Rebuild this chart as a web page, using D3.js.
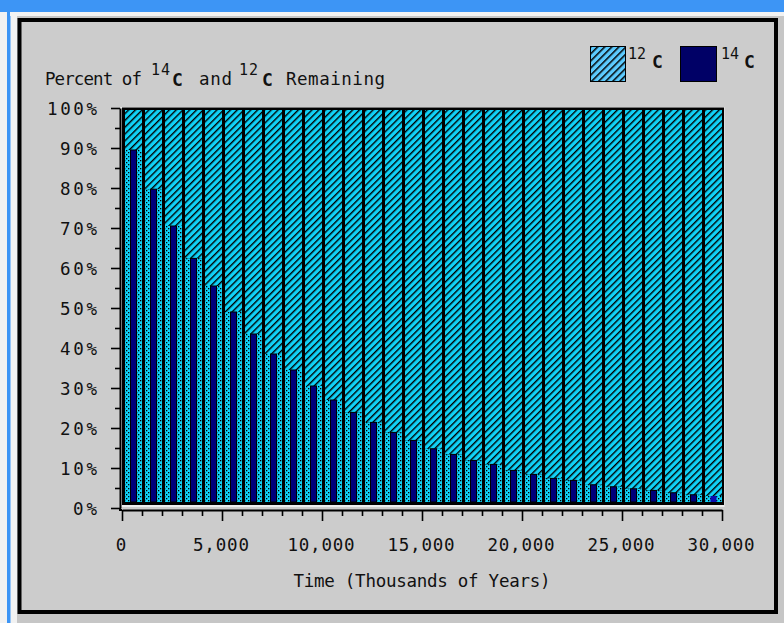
<!DOCTYPE html>
<html><head><meta charset="utf-8">
<script src="https://cdn.jsdelivr.net/npm/d3@7/dist/d3.min.js"></script>
<style>
body{margin:0;background:#fff}
svg{display:block}
text{font-family:"DejaVu Sans Mono",monospace;fill:#111}
</style></head>
<body><svg id="c" width="784" height="623"></svg>
<script>
// ---- data ----
const years = [0,1000,2000,3000,4000,5000,6000,7000,8000,9000,10000,11000,12000,13000,14000,
  15000,16000,17000,18000,19000,20000,21000,22000,23000,24000,25000,26000,27000,28000,29000];
const c14 = [89.5,79.7,70.5,62.4,55.5,49,43.5,38.5,34.5,30.5,27,23.9,21.4,18.9,16.9,
  14.8,13.4,11.9,10.9,9.4,8.4,7.4,6.9,5.8,5.3,4.8,4.4,3.8,3.3,3.0];
const c12 = [100,100,100,100,100,100,100,100,100,100,100,100,100,100,100,
  100,100,100,100,100,100,100,100,100,100,100,100,100,100,100];
const yTickValues = [0,10,20,30,40,50,60,70,80,90,100];
const yMinorValues = [5,15,25,35,45,55,65,75,85,95];
const xTickValues = [0,5000,10000,15000,20000,25000,30000];
const xMinorValues = [1000,2000,3000,4000,6000,7000,8000,9000,11000,12000,13000,14000,16000,17000,18000,19000,21000,22000,23000,24000,26000,27000,28000,29000];
const xTickLabels = ["0","5,000","10,000","15,000","20,000","25,000","30,000"];
const yTickLabels = ["0%","10%","20%","30%","40%","50%","60%","70%","80%","90%","100%"];
const binWidth = 1000;

const svg = d3.select("#c");
const defs = svg.append("defs");

// hatch pattern for 12C
const hp = defs.append("pattern").attr("id","hatch").attr("patternUnits","userSpaceOnUse")
  .attr("width",4.8).attr("height",4.8).attr("patternTransform","rotate(45)");
hp.append("rect").attr("width",4.8).attr("height",4.8).attr("fill","#10d2f7");
hp.append("rect").attr("width",1.4).attr("height",4.8).attr("fill","#000");
// dotted pattern (lower part of 12C columns)
const dp = defs.append("pattern").attr("id","dots").attr("patternUnits","userSpaceOnUse")
  .attr("width",4).attr("height",4);
dp.append("rect").attr("width",4).attr("height",4).attr("fill","#10d2f7");
dp.append("rect").attr("x",0).attr("y",0).attr("width",1.3).attr("height",1.3).attr("fill","#000");
dp.append("rect").attr("x",2).attr("y",2).attr("width",1.3).attr("height",1.3).attr("fill","#000");
// legend hatch
const lp = defs.append("pattern").attr("id","lhatch").attr("patternUnits","userSpaceOnUse")
  .attr("width",5).attr("height",5).attr("patternTransform","rotate(45)");
lp.append("rect").attr("width",5).attr("height",5).attr("fill","#5ccbff");
lp.append("rect").attr("width",1.5).attr("height",5).attr("fill","#000");

// ---- window frame ----
svg.append("rect").attr("width",784).attr("height",623).attr("fill","#c6c6c6");
svg.append("rect").attr("x",0).attr("y",0).attr("width",17).attr("height",623).attr("fill","#f2f2f2");
svg.append("rect").attr("x",7).attr("y",0).attr("width",3.5).attr("height",623).attr("fill","#3d95f5");
svg.append("rect").attr("x",0).attr("y",0).attr("width",784).attr("height",12).attr("fill","#3d95f5");
svg.append("rect").attr("x",10).attr("y",12).attr("width",774).attr("height",4).attr("fill","#f2f2f2");
svg.append("rect").attr("x",19.5).attr("y",20).attr("width",756.5).attr("height",592)
  .attr("fill","#cccccc").attr("stroke","#000").attr("stroke-width",4);

// ---- scales ----
const xs = d3.scaleLinear().domain([0,30000]).range([122,722]);
const ys = d3.scaleLinear().domain([0,100]).range([508,108]);

// plot area 3D inset
svg.append("rect").attr("x",120.5).attr("y",107).attr("width",604).attr("height",400).attr("fill","#eeeeee");
svg.append("rect").attr("x",122).attr("y",107.5).attr("width",602).attr("height",397.5).attr("fill","#000");

const plotBottom = 502;
const cols = svg.append("g");
years.forEach((yr,i)=>{
  const x0 = xs(yr)+3, x1 = xs(yr+binWidth);
  cols.append("rect").attr("x",x0).attr("width",x1-x0)
    .attr("y",ys(c12[i])+2).attr("height",ys(c14[i])-ys(c12[i])-2).attr("fill","url(#hatch)");
  cols.append("rect").attr("x",x0).attr("width",x1-x0)
    .attr("y",ys(c14[i])).attr("height",plotBottom-ys(c14[i])).attr("fill","url(#dots)");
});
// 14C bars
svg.append("g").selectAll("rect").data(years).join("rect")
  .attr("x",(d)=>xs(d)+8.5)
  .attr("width",(d)=> (xs(d+binWidth)-xs(d))*0.3)
  .attr("y",(d,i)=>ys(c14[i]))
  .attr("height",(d,i)=>plotBottom-ys(c14[i]))
  .attr("fill",(d,i)=> i===years.length-1 ? "#0c0cb0" : "#00007a")
  .attr("stroke",(d,i)=> i===years.length-1 ? "none" : "#000")
  .attr("stroke-width",1);

// ---- axes ----
const yAxisX = 120;
const yMaj = d3.axisLeft(ys).tickValues(yTickValues).tickSize(9).tickSizeOuter(0).tickFormat("");
const yMin = d3.axisLeft(ys).tickValues(yMinorValues).tickSize(5).tickSizeOuter(0).tickFormat("");
const gy = svg.append("g").attr("transform",`translate(${yAxisX},0)`).call(yMaj);
svg.append("g").attr("transform",`translate(${yAxisX},0)`).call(yMin).select(".domain").remove();
gy.select(".domain").attr("stroke","#000").attr("stroke-width",2);

const xAxisY = 510;
const xMaj = d3.axisBottom(xs).tickValues(xTickValues).tickSize(11).tickSizeOuter(0).tickFormat("");
const xMin = d3.axisBottom(xs).tickValues(xMinorValues).tickSize(6).tickSizeOuter(0).tickFormat("");
const gx = svg.append("g").attr("transform",`translate(0,${xAxisY})`).call(xMaj);
svg.append("g").attr("transform",`translate(0,${xAxisY})`).call(xMin).select(".domain").remove();
gx.select(".domain").attr("stroke","#000").attr("stroke-width",2);
svg.selectAll("g.tick line").attr("stroke","#000").attr("stroke-width",1.6);
svg.append("line").attr("x1",yAxisX).attr("x2",yAxisX).attr("y1",ys(0)).attr("y2",xAxisY+1)
  .attr("stroke","#000").attr("stroke-width",2);
svg.append("line").attr("x1",yAxisX-1).attr("x2",xs(0)).attr("y1",xAxisY).attr("y2",xAxisY)
  .attr("stroke","#000").attr("stroke-width",2);

// y labels
svg.append("g").selectAll("text").data(yTickValues).join("text")
  .attr("x",97).attr("y",d=>ys(d)+6.5).attr("text-anchor","end")
  .attr("font-size",17.5)
  .attr("textLength",(d,i)=>yTickLabels[i].length*13-2).attr("lengthAdjust","spacing")
  .text((d,i)=>yTickLabels[i]);
// x labels
svg.append("g").selectAll("text").data(xTickValues).join("text")
  .attr("x",d=>xs(d)-1).attr("y",551).attr("text-anchor","middle")
  .attr("font-size",17.5)
  .each(function(d,i){ if(xTickLabels[i].length>1) d3.select(this).attr("textLength",xTickLabels[i].length*11.2).attr("lengthAdjust","spacing"); })
  .text((d,i)=>xTickLabels[i]);

// x title
svg.append("text").attr("x",422).attr("y",587).attr("text-anchor","middle")
  .attr("font-size",17.5).attr("textLength",257).attr("lengthAdjust","spacing")
  .text("Time (Thousands of Years)");

// chart title
const tt = svg.append("g");
function seg(x,y,str,len,size,bold){
  const t = tt.append("text").attr("x",x).attr("y",y).attr("font-size",size).text(str);
  if(len) t.attr("textLength",len).attr("lengthAdjust","spacing");
  if(bold) t.attr("font-family","'DejaVu Sans',sans-serif").attr("font-weight","bold");
  return t;
}
seg(45,85,"Percent of",97,17.5,false);
seg(151,75,"14",19,15,false);
seg(172,86,"C",null,18,true);
seg(199,85,"and",33,17.5,false);
seg(239,75,"12",19,15,false);
seg(262,86,"C",null,18,true);
seg(286,85,"Remaining",99,17.5,false);

// legend
const lg = svg.append("g");
lg.append("rect").attr("x",590.5).attr("y",46.5).attr("width",35).attr("height",35)
  .attr("fill","url(#lhatch)").attr("stroke","#000").attr("stroke-width",1);
lg.append("rect").attr("x",680.5).attr("y",46.5).attr("width",36).attr("height",35)
  .attr("fill","#000066").attr("stroke","#000").attr("stroke-width",1);
lg.append("text").attr("x",628).attr("y",59).attr("font-size",15).attr("textLength",18).attr("lengthAdjust","spacing").text("12");
lg.append("text").attr("x",652).attr("y",68).attr("font-size",18).attr("font-weight","bold")
  .attr("font-family","'DejaVu Sans',sans-serif").text("C");
lg.append("text").attr("x",721).attr("y",59).attr("font-size",15).attr("textLength",18).attr("lengthAdjust","spacing").text("14");
lg.append("text").attr("x",744).attr("y",68).attr("font-size",18).attr("font-weight","bold")
  .attr("font-family","'DejaVu Sans',sans-serif").text("C");
</script>
</body></html>
